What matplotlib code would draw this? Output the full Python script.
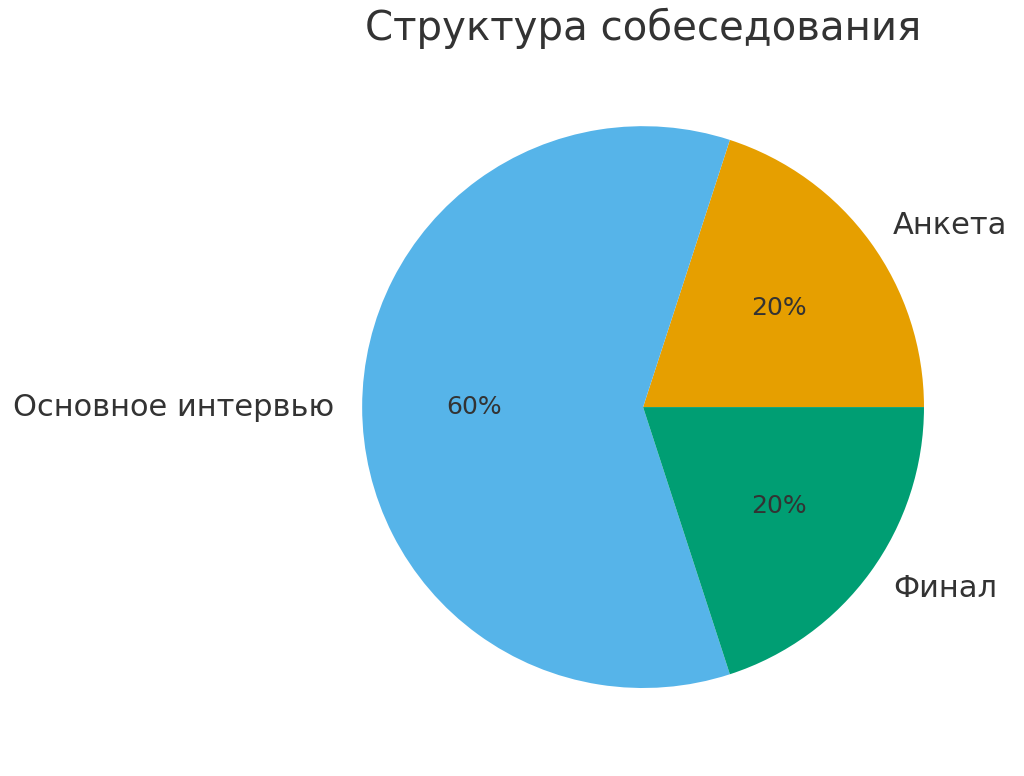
import matplotlib
matplotlib.use("Agg")
import matplotlib.pyplot as plt

labels = ["Анкета", "Основное интервью", "Финал"]
values = [20, 60, 20]
colors = ["#E69F00", "#56B4E9", "#009E73"]
title = "Структура собеседования"

plt.rcParams['font.family'] = ['DejaVu Sans']
text_color = "#333333"

fig = plt.figure(figsize=(10.24, 7.76), dpi=100)
ax = fig.add_axes([0.3535, 0.1134, 0.549, 0.724])

wedges, texts, autotexts = ax.pie(
    values, labels=labels, colors=colors, startangle=0,
    autopct='%1.0f%%', pctdistance=0.6, labeldistance=1.1,
    textprops={'color': text_color},
)
for t in texts:
    t.set_fontsize(22)
for t in autotexts:
    t.set_fontsize(18)
ax.set_xlim(-1, 1)
ax.set_ylim(-1, 1)
ax.set_aspect('equal')
ax.set_title(title, fontsize=29, color=text_color, pad=62)

fig.savefig("out.png", dpi=100)
